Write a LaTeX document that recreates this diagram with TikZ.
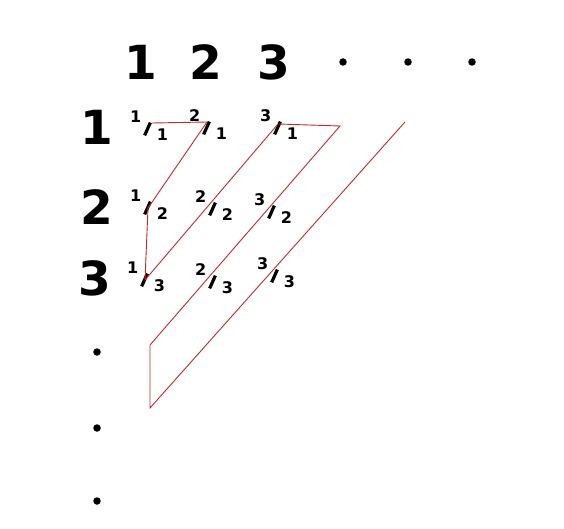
\documentclass[tikz,border=0pt]{standalone}
\usepackage{fontspec}
\setmainfont{DejaVu Sans}
\definecolor{zigred}{RGB}{190,45,45}
\newcommand\myslash{\raisebox{-7pt}{\rotatebox[origin=c]{-24}{\rule{3.2pt}{14pt}}}}
\newcommand\myfr[2]{\kern2pt\raisebox{6.5pt}{#1}\kern2pt\myslash\kern5pt\raisebox{-11.5pt}{#2}}
\begin{document}
\begin{tikzpicture}[x=1pt,y=-1pt,
  big/.style={font=\fontsize{47}{47}\selectfont\bfseries, inner sep=0pt},
  frac/.style={font=\fontsize{16}{16}\selectfont\bfseries, inner sep=0pt, anchor=base},
  dotn/.style={circle, fill=black, inner sep=0pt, minimum size=7.5pt},
  zig/.style={draw=zigred, line width=0.9pt}]
\useasboundingbox[fill=white] (0,0) rectangle (564,529);
% column headers
\node[big] (h1) at (141,62) {1};
\node[big] (h2) at (206,62) {2};
\node[big] (h3) at (274,62) {3};
\node[dotn] (hd1) at (343,62) {};
\node[dotn] (hd2) at (408,62) {};
\node[dotn] (hd3) at (472,62) {};
% row headers
\node[big] (r1) at (97,127) {1};
\node[big] (r2) at (97,207) {2};
\node[big] (r3) at (95,278) {3};
\node[dotn] (rd1) at (97,352) {};
\node[dotn] (rd2) at (97,428) {};
\node[dotn] (rd3) at (97,501) {};
% fractions (positioned at the slash)
\node[frac] (f11) at (148,129) {\myfr{1}{1}};
\node[frac] (f21) at (207,128) {\myfr{2}{1}};
\node[frac] (f31) at (278,128) {\myfr{3}{1}};
\node[frac] (f12) at (148,208) {\myfr{1}{2}};
\node[frac] (f22) at (213,209) {\myfr{2}{2}};
\node[frac] (f32) at (272,212) {\myfr{3}{2}};
\node[frac] (f13) at (145,280) {\myfr{1}{3}};
\node[frac] (f23) at (213,282) {\myfr{2}{3}};
\node[frac] (f33) at (275,276) {\myfr{3}{3}};
% zigzag path
\coordinate (c1) at (340,126);
\coordinate (c2) at (150,345);
\coordinate (c3) at (150,408);
\coordinate (c4) at (405,122);
\draw[zig] ([shift={(4pt,6pt)}]f11.base) -- ([yshift=6pt]f21.base)
  -- (f12.base) -- (f13.base)
  -- ([yshift=4pt]f31.base) -- (c1) -- (c2) -- (c3) -- (c4);
\end{tikzpicture}
\end{document}
